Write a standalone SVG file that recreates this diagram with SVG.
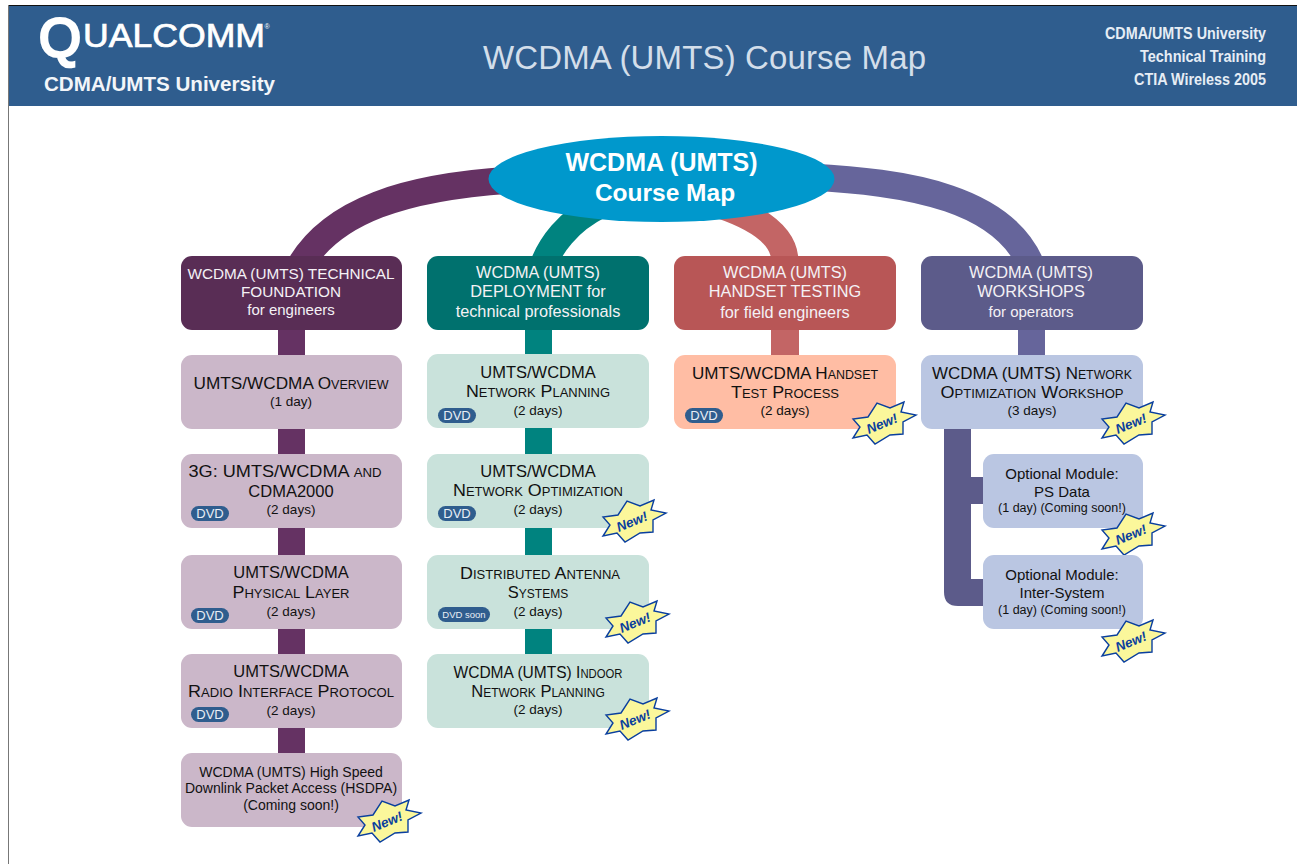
<svg xmlns="http://www.w3.org/2000/svg" width="1297" height="864" viewBox="0 0 1297 864">
<style>
text{font-family:"Liberation Sans",Arial,sans-serif;text-anchor:middle}
.w{fill:#f4f1f5}
.hd{font-size:15.3px}
.k{fill:#111}
.t{font-size:16.5px;font-variant:small-caps}
.p{font-size:16.3px}
.o{font-size:15px}
.d{font-size:13.5px}
.s{font-size:12.5px}
.h{font-size:14px}
.dv{fill:#2f5d8e}
.dt{fill:#e8eef5;font-size:13px}
.star{fill:#fbf79b;stroke:#0a3f9e;stroke-width:1.4;stroke-linejoin:miter}
.nw{font-size:13.5px;font-weight:bold;fill:#0a3f9e;font-style:italic}
.arc{fill:none;stroke-width:27}
.c1{fill:#cbb7c9}.c2{fill:#c9e2db}.c3{fill:#ffbda4}.c4{fill:#bac6e2}
.rt{font-size:16px;font-weight:bold;fill:#e6edf5;text-anchor:end}
</style>
<defs>
<g id="new">
<polygon class="star" points="19,-21 16,-11 31,-8 18,-1 18,11 5,12 -10,21 -18,12 -32,15 -25,4 -32,-4 -17,-6 -8,-20 5,-15"/>
<text class="nw" transform="rotate(-22 -2 3)" x="-2" y="5">New!</text>
</g>
</defs>
<rect width="1297" height="864" fill="#fff"/>
<rect x="8" y="5" width="1" height="859" fill="#777"/>
<g id="header">
<rect x="9" y="5" width="1288" height="1" fill="#111"/>
<rect x="9" y="6" width="1288" height="100" fill="#2f5d8e"/>
<text x="60" y="56" font-size="54" fill="#fff" stroke="#fff" stroke-width="3">Q</text>
<text x="174" y="47" font-size="33" fill="#fff" stroke="#fff" stroke-width="0.7" textLength="182" lengthAdjust="spacingAndGlyphs">UALCOMM</text>
<text x="267" y="29" font-size="7" fill="#fff">®</text>
<text x="159.500" y="91" font-size="20" font-weight="bold" fill="#f2f5f9" textLength="231" lengthAdjust="spacingAndGlyphs">CDMA/UMTS University</text>
<text x="704.500" y="69" font-size="33" fill="#d3deea" textLength="443">WCDMA (UMTS) Course Map</text>
<text class="rt" x="1266" y="39" textLength="161" lengthAdjust="spacingAndGlyphs">CDMA/UMTS University</text>
<text class="rt" x="1266" y="62" textLength="126" lengthAdjust="spacingAndGlyphs">Technical Training</text>
<text class="rt" x="1266" y="85" textLength="132" lengthAdjust="spacingAndGlyphs">CTIA Wireless 2005</text>
</g>
<g id="connectors">
<path class="arc" stroke="#653263" d="M512,180C420,186 320,205 291,285"/>
<path class="arc" stroke="#66659b" d="M810,177C900,182 1015,195 1036,280"/>
<path class="arc" stroke="#00837f" d="M600,205C570,220 548,245 540,275"/>
<path class="arc" stroke="#c36565" d="M720,205C755,217 785,235 785,262"/>
<rect x="278" y="320" width="27" height="445" fill="#653263"/>
<rect x="525" y="320" width="27" height="345" fill="#00837f"/>
<rect x="771" y="320" width="28" height="45" fill="#c36565"/>
<rect x="1018" y="320" width="27" height="45" fill="#66659b"/>
<path fill="#5c5b8a" d="M944,420H971V477H990V504H971V579H990V606H958Q944,606 944,592Z"/>
</g>
<g id="hub">
<ellipse cx="661.500" cy="179" rx="173" ry="43" fill="#0098cc"/>
<text x="661.500" y="171" font-size="25" font-weight="bold" fill="#fff">WCDMA (UMTS)</text>
<text x="665" y="201" font-size="24.500" font-weight="bold" fill="#fff">Course Map</text>
</g>
<g id="head-foundation">
<rect x="181" y="256" width="221" height="74" rx="11" fill="#592d55"/>
<text class="w hd" x="291" y="279">WCDMA (UMTS) TECHNICAL</text>
<text class="w hd" x="291" y="297">FOUNDATION</text>
<text class="w" font-size="15" x="291" y="315">for engineers</text>
</g>
<g id="head-deployment">
<rect x="427" y="256" width="222" height="74" rx="11" fill="#00716e"/>
<text class="w p" x="538" y="278">WCDMA (UMTS)</text>
<text class="w p" x="538" y="297">DEPLOYMENT for</text>
<text class="w p" x="538" y="317">technical professionals</text>
</g>
<g id="head-handset">
<rect x="674" y="256" width="222" height="74" rx="11" fill="#b85656"/>
<text class="w p" x="785" y="278">WCDMA (UMTS)</text>
<text class="w p" x="785" y="297">HANDSET TESTING</text>
<text class="w p" x="785" y="318">for field engineers</text>
</g>
<g id="head-workshops">
<rect x="921" y="256" width="222" height="74" rx="11" fill="#5c5b8a"/>
<text class="w p" x="1031" y="278">WCDMA (UMTS)</text>
<text class="w p" x="1031" y="297">WORKSHOPS</text>
<text class="w" font-size="15" x="1031" y="317">for operators</text>
</g>
<g id="overview">
<rect class="c1" x="181" y="355" width="221" height="74" rx="11"/>
<text class="k t" x="291" y="389" textLength="195" lengthAdjust="spacingAndGlyphs">UMTS/WCDMA Overview</text>
<text class="k d" x="291" y="406">(1 day)</text>
</g>
<g id="umts-cdma2000">
<rect class="c1" x="181" y="454" width="221" height="74" rx="11"/>
<text class="k t" x="285" y="477" textLength="193" lengthAdjust="spacingAndGlyphs">3G: UMTS/WCDMA and</text>
<text class="k t" x="291" y="497">CDMA2000</text>
<text class="k d" x="291" y="514">(2 days)</text>
<rect class="dv" x="191" y="506" width="38" height="15" rx="7.500"/>
<text class="dt" x="210" y="518">DVD</text>
</g>
<g id="physical-layer">
<rect class="c1" x="181" y="555" width="221" height="74" rx="11"/>
<text class="k t" x="291" y="578">UMTS/WCDMA</text>
<text class="k t" x="291" y="598" textLength="117" lengthAdjust="spacingAndGlyphs">Physical Layer</text>
<text class="k d" x="291" y="616">(2 days)</text>
<rect class="dv" x="191" y="608" width="38" height="15" rx="7.500"/>
<text class="dt" x="210" y="620">DVD</text>
</g>
<g id="radio-interface">
<rect class="c1" x="181" y="654" width="221" height="74" rx="11"/>
<text class="k t" x="291" y="677">UMTS/WCDMA</text>
<text class="k t" x="291" y="697" textLength="206" lengthAdjust="spacingAndGlyphs">Radio Interface Protocol</text>
<text class="k d" x="291" y="715">(2 days)</text>
<rect class="dv" x="191" y="707" width="38" height="15" rx="7.500"/>
<text class="dt" x="210" y="719">DVD</text>
</g>
<g id="hsdpa">
<rect class="c1" x="181" y="753" width="221" height="74" rx="11"/>
<text class="k h" x="291" y="777">WCDMA (UMTS) High Speed</text>
<text class="k h" x="291" y="793">Downlink Packet Access (HSDPA)</text>
<text class="k h" x="291" y="810">(Coming soon!)</text>
<use href="#new" x="390" y="821"/>
</g>
<g id="network-planning">
<rect class="c2" x="427" y="354" width="222" height="74" rx="11"/>
<text class="k t" x="538" y="378">UMTS/WCDMA</text>
<text class="k t" x="538" y="397" textLength="144" lengthAdjust="spacingAndGlyphs">Network Planning</text>
<text class="k d" x="538" y="415">(2 days)</text>
<rect class="dv" x="438" y="408" width="38" height="15" rx="7.500"/>
<text class="dt" x="457" y="420">DVD</text>
</g>
<g id="network-optimization">
<rect class="c2" x="427" y="454" width="222" height="74" rx="11"/>
<text class="k t" x="538" y="477">UMTS/WCDMA</text>
<text class="k t" x="538" y="496" textLength="170" lengthAdjust="spacingAndGlyphs">Network Optimization</text>
<text class="k d" x="538" y="514">(2 days)</text>
<rect class="dv" x="438" y="506" width="38" height="15" rx="7.500"/>
<text class="dt" x="457" y="518">DVD</text>
<use href="#new" x="635" y="521"/>
</g>
<g id="distributed-antenna">
<rect class="c2" x="427" y="555" width="222" height="74" rx="11"/>
<text class="k t" x="540" y="579" textLength="160" lengthAdjust="spacingAndGlyphs">Distributed Antenna</text>
<text class="k t" x="538" y="598">Systems</text>
<text class="k d" x="538" y="616">(2 days)</text>
<rect class="dv" x="438" y="607" width="52" height="15" rx="7.500"/>
<text class="dt" style="font-size:9.5px" x="464" y="618">DVD soon</text>
<use href="#new" x="638" y="622"/>
</g>
<g id="indoor-planning">
<rect class="c2" x="427" y="654" width="222" height="74" rx="11"/>
<text class="k t" x="538" y="678" textLength="169" lengthAdjust="spacingAndGlyphs">WCDMA (UMTS) Indoor</text>
<text class="k t" x="538" y="697">Network Planning</text>
<text class="k d" x="538" y="714">(2 days)</text>
<use href="#new" x="638" y="719"/>
</g>
<g id="handset-test">
<rect class="c3" x="674" y="355" width="222" height="74" rx="11"/>
<text class="k t" x="785" y="379" textLength="186" lengthAdjust="spacingAndGlyphs">UMTS/WCDMA Handset</text>
<text class="k t" x="785" y="398" textLength="108" lengthAdjust="spacingAndGlyphs">Test Process</text>
<text class="k d" x="785" y="415">(2 days)</text>
<rect class="dv" x="685" y="408" width="38" height="15" rx="7.500"/>
<text class="dt" x="704" y="420">DVD</text>
<use href="#new" x="885" y="423"/>
</g>
<g id="network-workshop">
<rect class="c4" x="921" y="355" width="222" height="74" rx="11"/>
<text class="k t" x="1032" y="379" textLength="200" lengthAdjust="spacingAndGlyphs">WCDMA (UMTS) Network</text>
<text class="k t" x="1032" y="398" textLength="183" lengthAdjust="spacingAndGlyphs">Optimization Workshop</text>
<text class="k d" x="1032" y="415">(3 days)</text>
<use href="#new" x="1134" y="423"/>
</g>
<g id="ps-data">
<rect class="c4" x="983" y="454" width="160" height="74" rx="11"/>
<text class="k o" x="1062" y="479">Optional Module:</text>
<text class="k o" x="1062" y="497">PS Data</text>
<text class="k s" x="1062" y="512">(1 day) (Coming soon!)</text>
<use href="#new" x="1134" y="534"/>
</g>
<g id="inter-system">
<rect class="c4" x="983" y="555" width="160" height="74" rx="11"/>
<text class="k o" x="1062" y="580">Optional Module:</text>
<text class="k o" x="1062" y="598">Inter-System</text>
<text class="k s" x="1062" y="614">(1 day) (Coming soon!)</text>
<use href="#new" x="1134" y="641"/>
</g>
</svg>
